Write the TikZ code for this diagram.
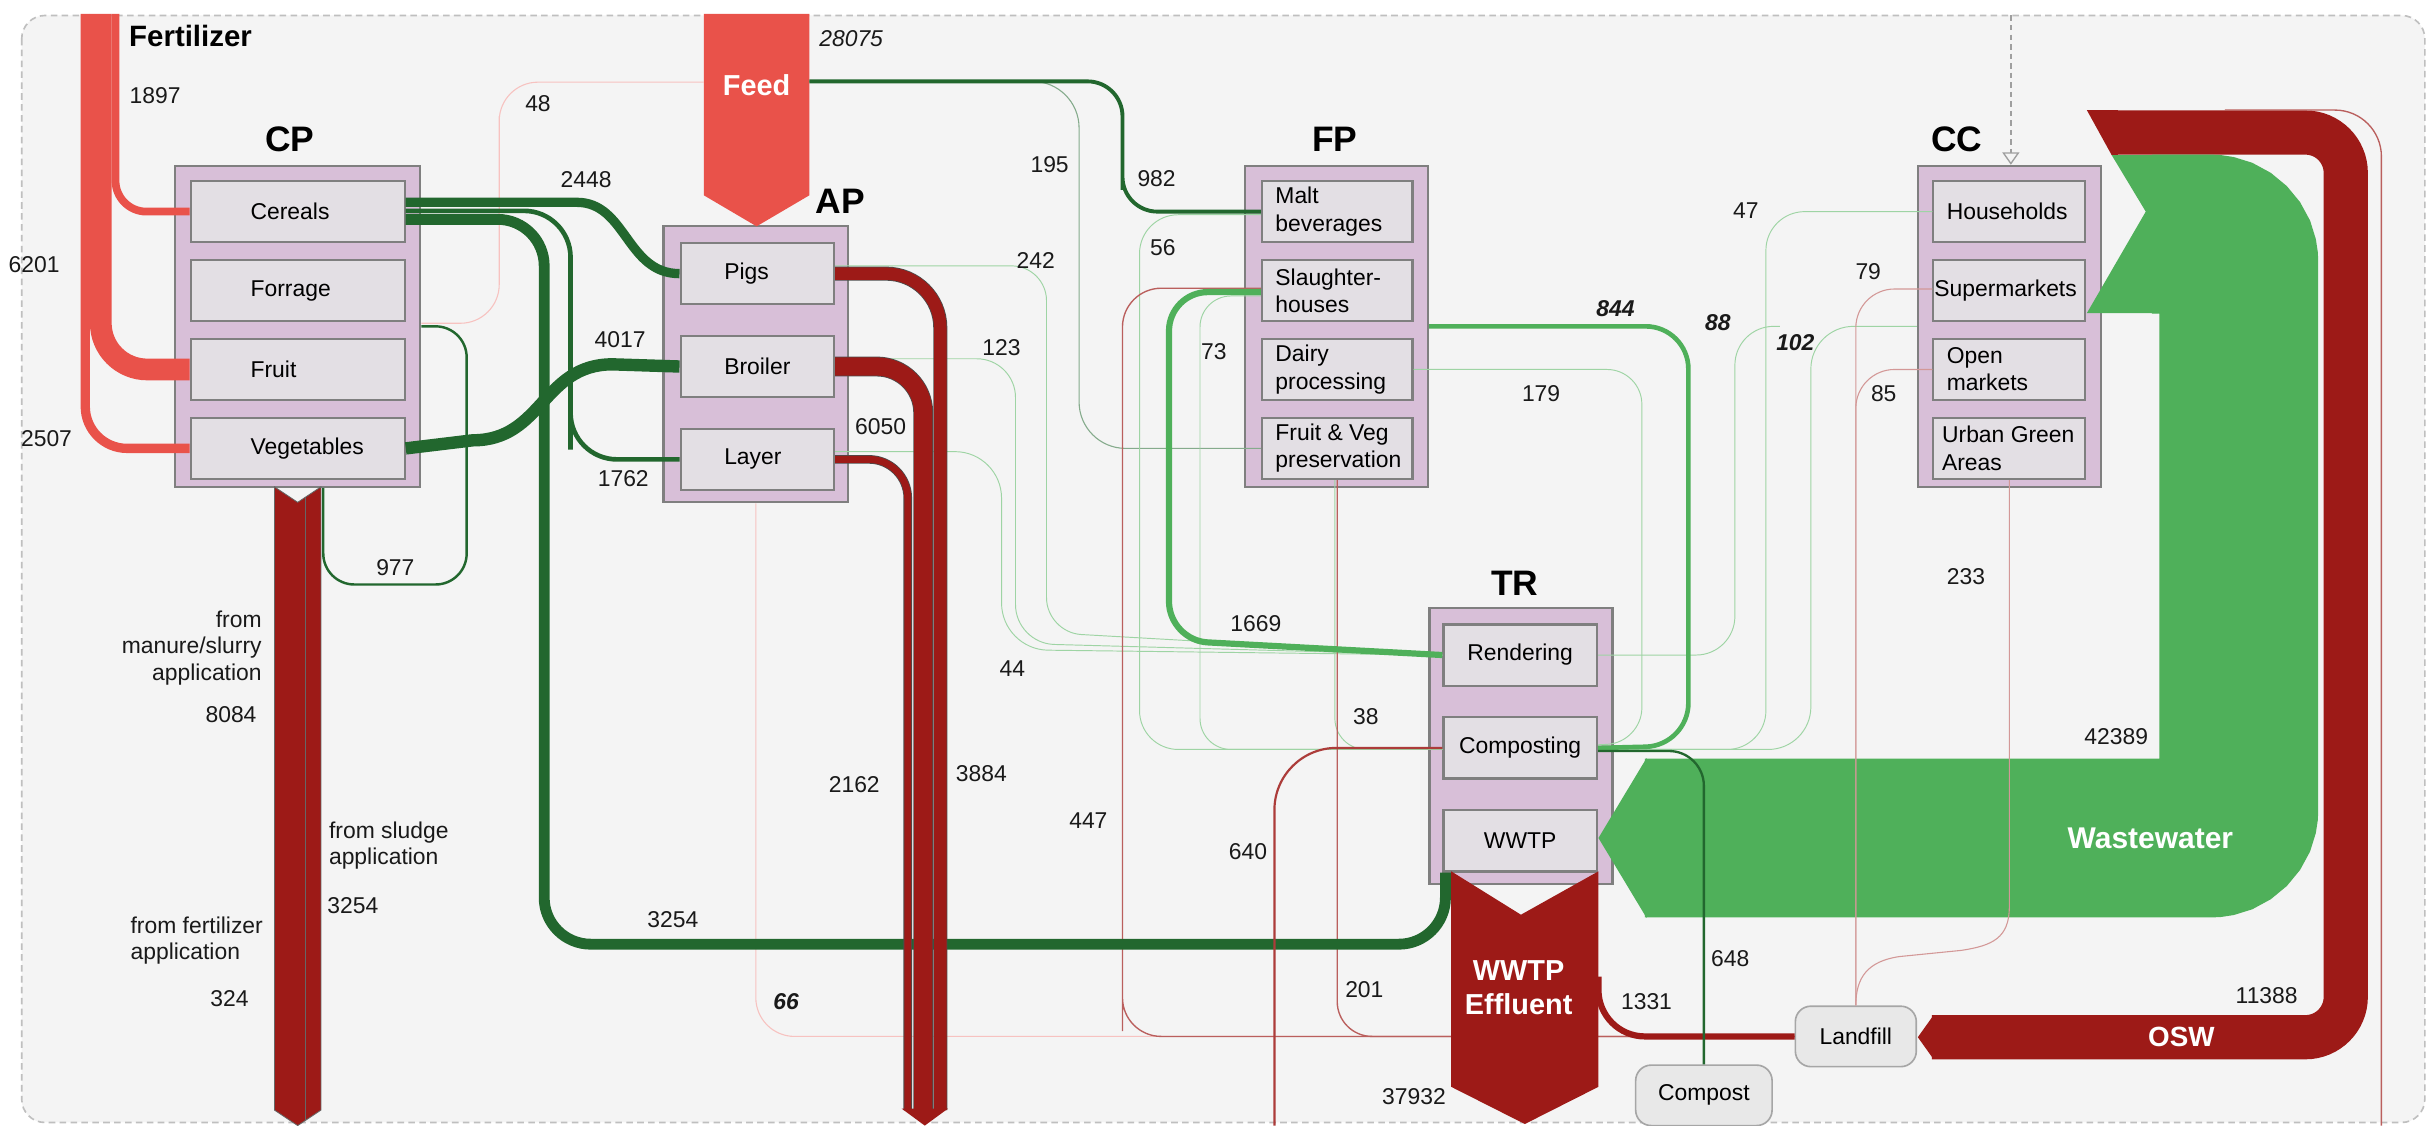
\documentclass[tikz,border=0pt]{standalone}
\usepackage{fontspec}
\setmainfont{Liberation Sans}
\usepackage{xcolor}
\usetikzlibrary{arrows.meta, positioning, calc}
\definecolor{skbg}{HTML}{F4F4F4}
\definecolor{skframe}{HTML}{BFBFBF}
\definecolor{skgrp}{HTML}{D8BFD8}
\definecolor{sksub}{HTML}{E3DFE4}
\definecolor{skedge}{HTML}{7F7F7F}
\definecolor{skbin}{HTML}{E8E8E8}
\definecolor{skfert}{HTML}{E9524A}
\definecolor{skdkred}{HTML}{9D1A17}
\definecolor{skgreen}{HTML}{4FB05A}
\definecolor{skdkgreen}{HTML}{22672E}

\begin{document}
\begin{tikzpicture}[
  x=0.2mm, y=-0.2mm,
  font=\fontsize{8.4}{10}\selectfont,
  grpbox/.style={rectangle, draw=skedge, fill=skgrp, line width=0.8pt, inner sep=0pt},
  subbox/.style={rectangle, draw=skedge, fill=sksub, line width=0.8pt, inner sep=0pt, minimum width=#1, minimum height=7.9mm},
  subtxt/.style 2 args={label={[anchor=west, align=left, inner sep=0pt, xshift=#1]west:{#2}}},
  binbox/.style={rectangle, rounded corners=2mm, draw=gray!70, fill=skbin, line width=0.6pt},
  grptitle/.style={font=\fontsize{13}{15}\selectfont\bfseries},
  flowlbl/.style={text=white, font=\fontsize{10.6}{12.2}\selectfont\bfseries, align=center},
  num/.style={inner sep=0.5pt, text=black!90},
  numbi/.style={num, font=\fontsize{8.4}{10}\selectfont\bfseries\itshape},
  note/.style={num, font=\fontsize{8.4}{9.7}\selectfont},
  fertband/.style={draw=skfert, line width=#1},
  grnband/.style={draw=skdkgreen, line width=#1},
  ltband/.style={draw=skgreen, line width=#1},
  redband/.style={draw=black!70, line width=0.3pt, double=skdkred, double distance=#1},
  faintg/.style={draw=skgreen!55, line width=0.35pt},
  faintr/.style={draw=skfert!35, line width=0.4pt},
  thinr/.style={draw=skdkred!70, line width=0.5pt},
  paler/.style={draw=skdkred!45, line width=0.4pt}
]
  \useasboundingbox (0,0) rectangle (1568,726);
  \fill[white] (0,0) rectangle (1568,726);
  % System boundary
  \draw[skframe, fill=skbg, dash pattern=on 2.4pt off 1.6pt, line width=0.6pt, rounded corners=3mm] (14,10) rectangle (1564,724);

  % Process groups
  \node[grpbox, minimum width=31.6mm, minimum height=41.4mm] (cp) at (192,210.5) {};
  \node[grpbox, minimum width=23.8mm, minimum height=35.6mm] (ap) at (487.5,235) {};
  \node[grpbox, minimum width=23.6mm, minimum height=41.4mm] (fp) at (862,210.5) {};
  \node[grpbox, minimum width=23.6mm, minimum height=41.4mm] (cc) at (1296,210.5) {};
  \node[grpbox, minimum width=23.6mm, minimum height=35.6mm] (tr) at (981,481) {};

  \node[grptitle] (cptitle) at (187,90) {CP};
  \node[grptitle] (aptitle) at (542,130) {AP};
  \node[grptitle] (fptitle) at (861,90) {FP};
  \node[grptitle] (cctitle) at (1262,90) {CC};
  \node[grptitle] (trtitle) at (977,376) {TR};

  % Crop production
  \node[subbox=27.6mm, subtxt={7.8mm}{Cereals}] (cereals) at (192,136.5) {};
  \node[subbox=27.6mm, subtxt={7.8mm}{Forrage}, below=2mm of cereals] (forrage) {};
  \node[subbox=27.6mm, subtxt={7.8mm}{Fruit}, below=2mm of forrage] (fruit) {};
  \node[subbox=27.6mm, subtxt={7.8mm}{Vegetables}, below=2mm of fruit] (vegetables) {};

  % Animal production
  \node[subbox=19.8mm, subtxt={5.7mm}{Pigs}] (pigs) at (488.5,176.5) {};
  \node[subbox=19.8mm, subtxt={5.7mm}{Broiler}, below=3.8mm of pigs] (broiler) {};
  \node[subbox=19.8mm, subtxt={5.7mm}{Layer}, below=3.8mm of broiler] (layer) {};

  % Food processing
  \node[subbox=19.4mm, subtxt={1.8mm}{Malt\\beverages}] (malt) at (862.5,136.5) {};
  \node[subbox=19.4mm, subtxt={1.8mm}{Slaughter-\\houses}, below=2mm of malt] (slaughter) {};
  \node[subbox=19.4mm, subtxt={1.8mm}{Dairy\\processing}, below=2mm of slaughter] (dairy) {};
  \node[subbox=19.4mm, subtxt={1.8mm}{Fruit \& Veg\\preservation}, below=2mm of dairy] (fvpres) {};

  % Consumption
  \node[subbox=19.6mm, subtxt={1.8mm}{Households}] (households) at (1296,136.5) {};
  \node[subbox=19.6mm, subtxt={0.2mm}{Supermarkets}, below=2mm of households] (supermkt) {};
  \node[subbox=19.6mm, subtxt={1.8mm}{Open\\markets}, below=2mm of supermkt] (openmkt) {};
  \node[subbox=19.6mm, subtxt={1.2mm}{Urban Green\\Areas}, below=2mm of openmkt] (urban) {};

  % Treatment
  \node[subbox=19.8mm] (rendering) at (980.5,422.5) {Rendering};
  \node[subbox=19.8mm, below=3.8mm of rendering] (composting) {Composting};
  \node[subbox=19.8mm, below=3.8mm of composting] (wwtp) {WWTP};

  % Sinks
  \node[binbox, minimum width=15.6mm, minimum height=7.8mm] (landfill) at (1197,668.5) {Landfill};
  \node[binbox, minimum width=17.6mm, minimum height=7.8mm] (compost) at (1099,706.5) {Compost};

  % Ports and free ends
  \coordinate (fertsrc) at (65,9);
  \coordinate (feedout) at (522,52.5);
  \coordinate (feedin) at (454,53);
  \coordinate (effout) at (1031,630);
  \coordinate (apout) at (596,716);
  \coordinate (out640) at (822,726);
  \coordinate (end88) at (1148,210.5);
  \coordinate (ccsrc) at (1297,10);
  \coordinate (oswsplit) at (1435,71);
  \coordinate (oswexit) at (1536,726);

  % Feed import
  \fill[skfert] (454,9) -- (522,9) -- (522,126) -- (488,146) -- (454,126) -- cycle;

  % Minor flows
  \draw[faintr, rounded corners=5mm] ([yshift=0.4mm]cp.east) -| (322,100) |- (feedin);
  \draw[draw=skdkgreen!55, line width=0.4pt, rounded corners=6mm] (feedout) -| (696,200) |- (fvpres.west);
  \draw[faintg, rounded corners=5mm] ([yshift=-0.4mm]malt.west) -| (735,400) |- ([yshift=-0.2mm]composting.west);
  \draw[faintg, rounded corners=4mm] ([yshift=-0.7mm]slaughter.west) -| (774,400) |- ([yshift=-0.2mm]composting.west);
  \draw[faintg, rounded corners=4mm] ([xshift=-0.3mm]fvpres.south) |- ([yshift=-0.2mm]composting.west);
  \draw[faintg, rounded corners=4.5mm] ([yshift=1mm]pigs.east) -| (675,408) -- (rendering.west);
  \draw[faintg, rounded corners=5mm] ([yshift=1mm]broiler.east) -| (655,415) -- (rendering.west);
  \draw[faintg, rounded corners=6mm] ([yshift=1mm]layer.east) -| (646,419) -- (rendering.west);
  \draw[faintg, rounded corners=4.5mm] (dairy.east) -| (1059,479) -- ([yshift=0.4mm]composting.east);
  \draw[faintg, rounded corners=5mm] (households.west) -| (1139,400) |- ([yshift=-0.2mm]composting.east);
  \draw[faintg, rounded corners=5.5mm] (cc.west) -| (1168,400) |- ([yshift=-0.2mm]composting.east);
  \draw[faintg, rounded corners=5mm] (rendering.east) -| (1119,300) |- (end88);
  \draw[faintr, rounded corners=5mm] (ap.south) |- (landfill.west);
  \draw[thinr, rounded corners=5mm] ([yshift=0.3mm]slaughter.west) -| (724,640) |- (landfill.west);
  \draw[thinr, rounded corners=4.5mm] (fvpres.south) |- (landfill.west);

  % Fertilizer input
  \draw[fertband=1mm, rounded corners=4mm] ([xshift=1.9mm]fertsrc) |- (cereals.west);
  \draw[fertband=2.8mm, rounded corners=6mm] (fertsrc) |- (fruit.west);
  \draw[fertband=1.2mm, rounded corners=5.4mm] ([xshift=-2mm]fertsrc) |- (vegetables.west);

  % Crop products
  \draw[grnband=1.2mm] ([yshift=1.2mm]cereals.east) -- (372,130.5) .. controls (404,130.5) and (404,176.5) .. (pigs.west);
  \draw[grnband=1.4mm, rounded corners=6mm] ([yshift=-1mm]cereals.east) -| (351,609) -| ([xshift=0.4mm]wwtp.south west);
  \draw[grnband=0.6mm, rounded corners=6mm] ([yshift=0.1mm]cereals.east) -| (368,260) |- (layer.west);
  \draw[grnband=1.6mm] (vegetables.east) -- (305,284) .. controls (350,284) and (350,235) .. (395,235) -- (broiler.west);
  \draw[grnband=0.9pt, rounded corners=4mm] (cp.east) -| (301,377) -| ([xshift=3.3mm]cp.south);

  % Soil losses from CP
  \filldraw[fill=skdkred, draw=black!60, line width=0.3pt] (177,314) -- (192,324) -- (207,314) -- (207,716) -- (192,726) -- (177,716) -- cycle;
  \draw[black!60, line width=0.3pt] (197,320.7) -- (197,722.7);

  % Manure from AP
  \draw[redband=1.6mm, rounded corners=7mm] (pigs.east) -| ([xshift=2.1mm]apout);
  \draw[redband=2.35mm, rounded corners=6mm] (broiler.east) -| ([xshift=-0.1mm]apout);
  \draw[redband=0.9mm, rounded corners=5mm] (layer.east) -| ([xshift=-2.1mm]apout);
  \fill[skdkred] (581.5,715) -- (611.5,715) -- (596.5,726) -- cycle;

  % By-products
  \draw[ltband=0.8mm, rounded corners=5mm] ([yshift=-0.2mm]slaughter.west) -| (754,413) -- (rendering.west);
  \draw[ltband=0.6mm, rounded corners=5.5mm] (fp.east) -| (1089,481) -- (composting.east);
  \draw[grnband=0.5mm, rounded corners=4.5mm] (feedout) -| (724,100) |- (malt.west);

  % OSW and wastewater from CC
  \fill[skdkred] (1346,71) -- (1366,71) -- (1366,100) -- (1362,100) -- cycle;
  \draw[skdkred, line width=5.7mm, rounded corners=5.2mm] (1365,85.5) -| (1513,669) -- (1246,669);
  \fill[skdkred] (1247,655) -- (1247,683) -- (1237,669) -- cycle;
  \fill[skgreen] (1362,100) -- (1392,100) -- (1392,202) -- (1346,202) -- (1384,136.5) -- cycle;
  \draw[skgreen, line width=20.5mm, rounded corners=3.7mm] (1388,151) -| (1444,540.5) -- (1061,540.5);
  \fill[skgreen] (1062,489) -- (1062,592) -- (1031,540.5) -- cycle;

  % WWTP effluent
  \fill[skdkred] (936,562) -- (981,590) -- (1031,562) -- (1031,701) -- (983.5,725) -- (936,701) -- cycle;

  % Flows to sinks
  \draw[thinr, rounded corners=6mm] (oswsplit) -| (oswexit);
  \draw[paler, rounded corners=5mm] ([yshift=0.2mm]supermkt.west) -| (landfill.north);
  \draw[paler, rounded corners=5mm] (openmkt.west) -| (landfill.north);
  \draw[paler] (urban.south) -- (1296,585) .. controls (1296,605) and (1285,610) .. (1265,613) -- (1225,617) .. controls (1205,620) and (1197,630) .. (landfill.north);
  \draw[skdkred!85, line width=0.8pt, rounded corners=8mm] (composting.west) -| (out640);
  \draw[skdkred, line width=0.8mm, rounded corners=6mm] (effout) |- (landfill.west);
  \draw[grnband=0.3mm, rounded corners=4.5mm] ([yshift=-0.4mm]composting.east) -| (compost.north);
  \draw[gray!75, line width=0.5pt, dash pattern=on 2pt off 1.5pt, -{Triangle[open, length=1.6mm, width=2.2mm]}] (ccsrc) -- ([xshift=0.2mm]cc.north);

  % Stream names
  \node[font=\fontsize{10.8}{12}\selectfont\bfseries, anchor=west, inner sep=0pt] (ferttitle) at (83,23) {Fertilizer};
  \node[flowlbl] (feed) at (488,55) {Feed};
  \node[flowlbl] (effluent) at (979.5,637) {WWTP\\Effluent};
  \node[flowlbl, font=\fontsize{11}{13}\selectfont\bfseries] (wastewater) at (1387,540.5) {Wastewater};
  \node[flowlbl, font=\fontsize{10.2}{12}\selectfont\bfseries] (osw) at (1407,668.6) {OSW};

  % Flow values
  \node[num] (v1897) at (100,62) {1897};
  \node[num] (v6201) at (22,171) {6201};
  \node[num] (v2507) at (30,283) {2507};
  \node[num] (v48) at (347,67) {48};
  \node[num] (v2448) at (378,116) {2448};
  \node[num] (v4017) at (400,219) {4017};
  \node[num] (v1762) at (402,309) {1762};
  \node[num] (v977) at (255,366) {977};
  \node[note, anchor=east, align=right] (manure) at (170,418) {from\\manure/slurry\\application};
  \node[num] (v8084) at (149,461) {8084};
  \node[note, anchor=west, align=left] (sludge) at (211,545.5) {from sludge\\application};
  \node[num, anchor=west] (v3254a) at (210,584) {3254};
  \node[note, anchor=west, align=left] (fertapp) at (83,606.5) {from fertilizer\\application};
  \node[num] (v324) at (148,644) {324};
  \node[num] (v3254b) at (434,593) {3254};
  \node[numbi] (v66) at (507,646) {66};
  \node[num, font=\fontsize{8.4}{10}\selectfont\itshape] (v28075) at (549,25) {28075};
  \node[num] (v195) at (677,106) {195};
  \node[num] (v982) at (746,115) {982};
  \node[num] (v242) at (668,168) {242};
  \node[num] (v56) at (750,160) {56};
  \node[num] (v123) at (646,224) {123};
  \node[num] (v73) at (783,227) {73};
  \node[num] (v6050) at (568,275) {6050};
  \node[num] (v1669) at (810,402) {1669};
  \node[num] (v44) at (653,431) {44};
  \node[num] (v38) at (881,462) {38};
  \node[num] (v3884) at (633,499) {3884};
  \node[num] (v2162) at (551,506) {2162};
  \node[num] (v447) at (702,529) {447};
  \node[num] (v640) at (805,549) {640};
  \node[num] (v201) at (880,638) {201};
  \node[num] (v37932) at (912,707) {37932};
  \node[num] (v1331) at (1062,646) {1331};
  \node[num] (v648) at (1116,618) {648};
  \node[numbi] (v844) at (1042,199) {844};
  \node[num] (v179) at (994,254) {179};
  \node[numbi] (v88) at (1108,208) {88};
  \node[num] (v47) at (1126,136) {47};
  \node[numbi] (v102) at (1158,221) {102};
  \node[num] (v79) at (1205,175) {79};
  \node[num] (v85) at (1215,254) {85};
  \node[num] (v233) at (1268,372) {233};
  \node[num] (v42389) at (1365,475) {42389};
  \node[num] (v11388) at (1462,642) {11388};
\end{tikzpicture}
\end{document}
